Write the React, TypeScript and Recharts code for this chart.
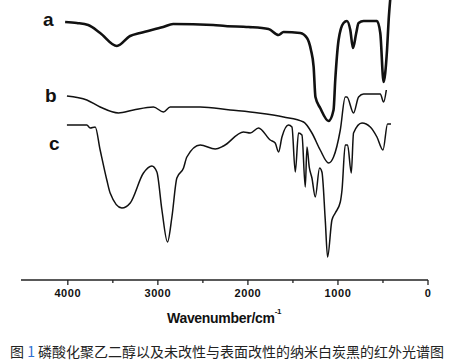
import { Line, LineChart, XAxis, YAxis } from "recharts";

// wavenumber (cm-1) and relative signal height for each spectrum
const aWavenumber = [4030, 3900, 3774, 3641, 3455, 3308, 3197, 2941, 2830, 2386, 2252, 1993, 1771, 1660, 1604, 1419, 1344, 1300, 1270, 1250, 1197, 1104, 1049, 1030, 993, 938, 900, 863, 833, 797, 771, 715, 567, 530, 493, 475, 455, 437, 420];
const aSignal = [258, 257, 255, 247, 234, 244, 247, 253, 256, 255, 254, 253, 251, 245, 248, 247, 242, 230, 213, 183, 172, 159, 170, 200, 240, 257, 259, 250, 232, 247, 257, 259, 259, 247, 198, 207, 230, 260, 280];

const bWavenumber = [4010, 3789, 3641, 3438, 3271, 3049, 2938, 2863, 2530, 2197, 1882, 1604, 1382, 1289, 1197, 1104, 1049, 974, 919, 900, 827, 771, 715, 530, 493, 463];
const bSignal = [184, 180, 173, 167, 170, 173, 168, 173, 173, 170, 167, 163, 158, 147, 130, 117, 123, 150, 183, 183, 167, 183, 186, 186, 178, 190];

const cWavenumber = [4010, 3789, 3752, 3696, 3641, 3567, 3530, 3400, 3307, 3160, 3067, 3011, 2955, 2893, 2844, 2789, 2715, 2678, 2530, 2363, 2271, 2049, 1974, 1882, 1752, 1697, 1660, 1622, 1549, 1511, 1474, 1438, 1400, 1363, 1344, 1319, 1289, 1252, 1204, 1178, 1141, 1115, 1067, 1030, 974, 955, 919, 893, 852, 827, 733, 641, 567, 500, 449, 411];
const cSignal = [155, 155, 152, 153, 130, 100, 87, 72, 77, 107, 114, 108, 70, 38, 63, 102, 112, 123, 135, 131, 134, 148, 147, 152, 140, 137, 128, 143, 155, 153, 108, 147, 145, 93, 133, 113, 102, 83, 112, 108, 60, 23, 60, 67, 78, 90, 135, 135, 107, 147, 157, 153, 143, 130, 156, 156];

const xTicks = [4000, 3500, 3000, 2500, 2000, 1500, 1000, 500, 0];

const toRows = (wn: number[], sig: number[]) => wn.map((w, i) => ({ wn: w, v: sig[i] }));
const aData = toRows(aWavenumber, aSignal);
const bData = toRows(bWavenumber, bSignal);
const cData = toRows(cWavenumber, cSignal);

const font = "'Liberation Sans', Arial, sans-serif";

const AxisTick = (props: any) => {
  const { x, y, payload } = props;
  const major = payload.value % 1000 === 0;
  return (
    <g>
      <line x1={x} x2={x} y1={y} y2={y + (major ? 5 : 3)} stroke="#222" strokeWidth={1.3} />
      {major && (
        <text x={x} y={y + 17} textAnchor="middle" fontFamily={font} fontWeight="bold" fontSize={11} fill="#111" letterSpacing={0.6}>
          {payload.value}
        </text>
      )}
    </g>
  );
};

export default function App() {
  return (
    <div style={{ position: "absolute", left: 0, top: 0, width: 455, height: 364, background: "#fff" }}>
      <LineChart width={455} height={310} margin={{ top: 0, right: 27, bottom: 0, left: 21 }}>
        <XAxis
          dataKey="wn"
          type="number"
          domain={[0, 4520]}
          reversed
          ticks={xTicks}
          interval={0}
          height={30}
          tickSize={0}
          tickMargin={0}
          tickLine={false}
          axisLine={{ stroke: "#222", strokeWidth: 1.5 }}
          tick={<AxisTick />}
        />
        <YAxis hide type="number" domain={[0, 280]} allowDataOverflow />
        <Line data={aData} dataKey="v" type="monotone" stroke="#111" strokeWidth={2.6} dot={false} isAnimationActive={false} />
        <Line data={bData} dataKey="v" type="monotone" stroke="#111" strokeWidth={1.5} dot={false} isAnimationActive={false} />
        <Line data={cData} dataKey="v" type="monotone" stroke="#111" strokeWidth={1.5} dot={false} isAnimationActive={false} />
      </LineChart>
      <svg width={455} height={364} style={{ position: "absolute", left: 0, top: 0, pointerEvents: "none" }}>
        <text x={43} y={26} fontFamily={font} fontWeight="bold" fontSize={19} fill="#111">a</text>
        <text x={45} y={102} fontFamily={font} fontWeight="bold" fontSize={19} fill="#111">b</text>
        <text x={49} y={150} fontFamily={font} fontWeight="bold" fontSize={19} fill="#111">c</text>
        <text x={167} y={323} fontFamily={font} fontWeight="bold" fontSize={14} fill="#111" letterSpacing={-0.3}>
          Wavenumber/cm<tspan dy={-9} fontSize={8}>-1</tspan>
        </text>
        <text x={10} y={357} fontFamily="'Noto Sans CJK SC', sans-serif" fontSize={14} fill="#222">
          图 <tspan fill="#2f6fd0">1</tspan> 磷酸化聚乙二醇以及未改性与表面改性的纳米白炭黑的红外光谱图
        </text>
      </svg>
    </div>
  );
}
